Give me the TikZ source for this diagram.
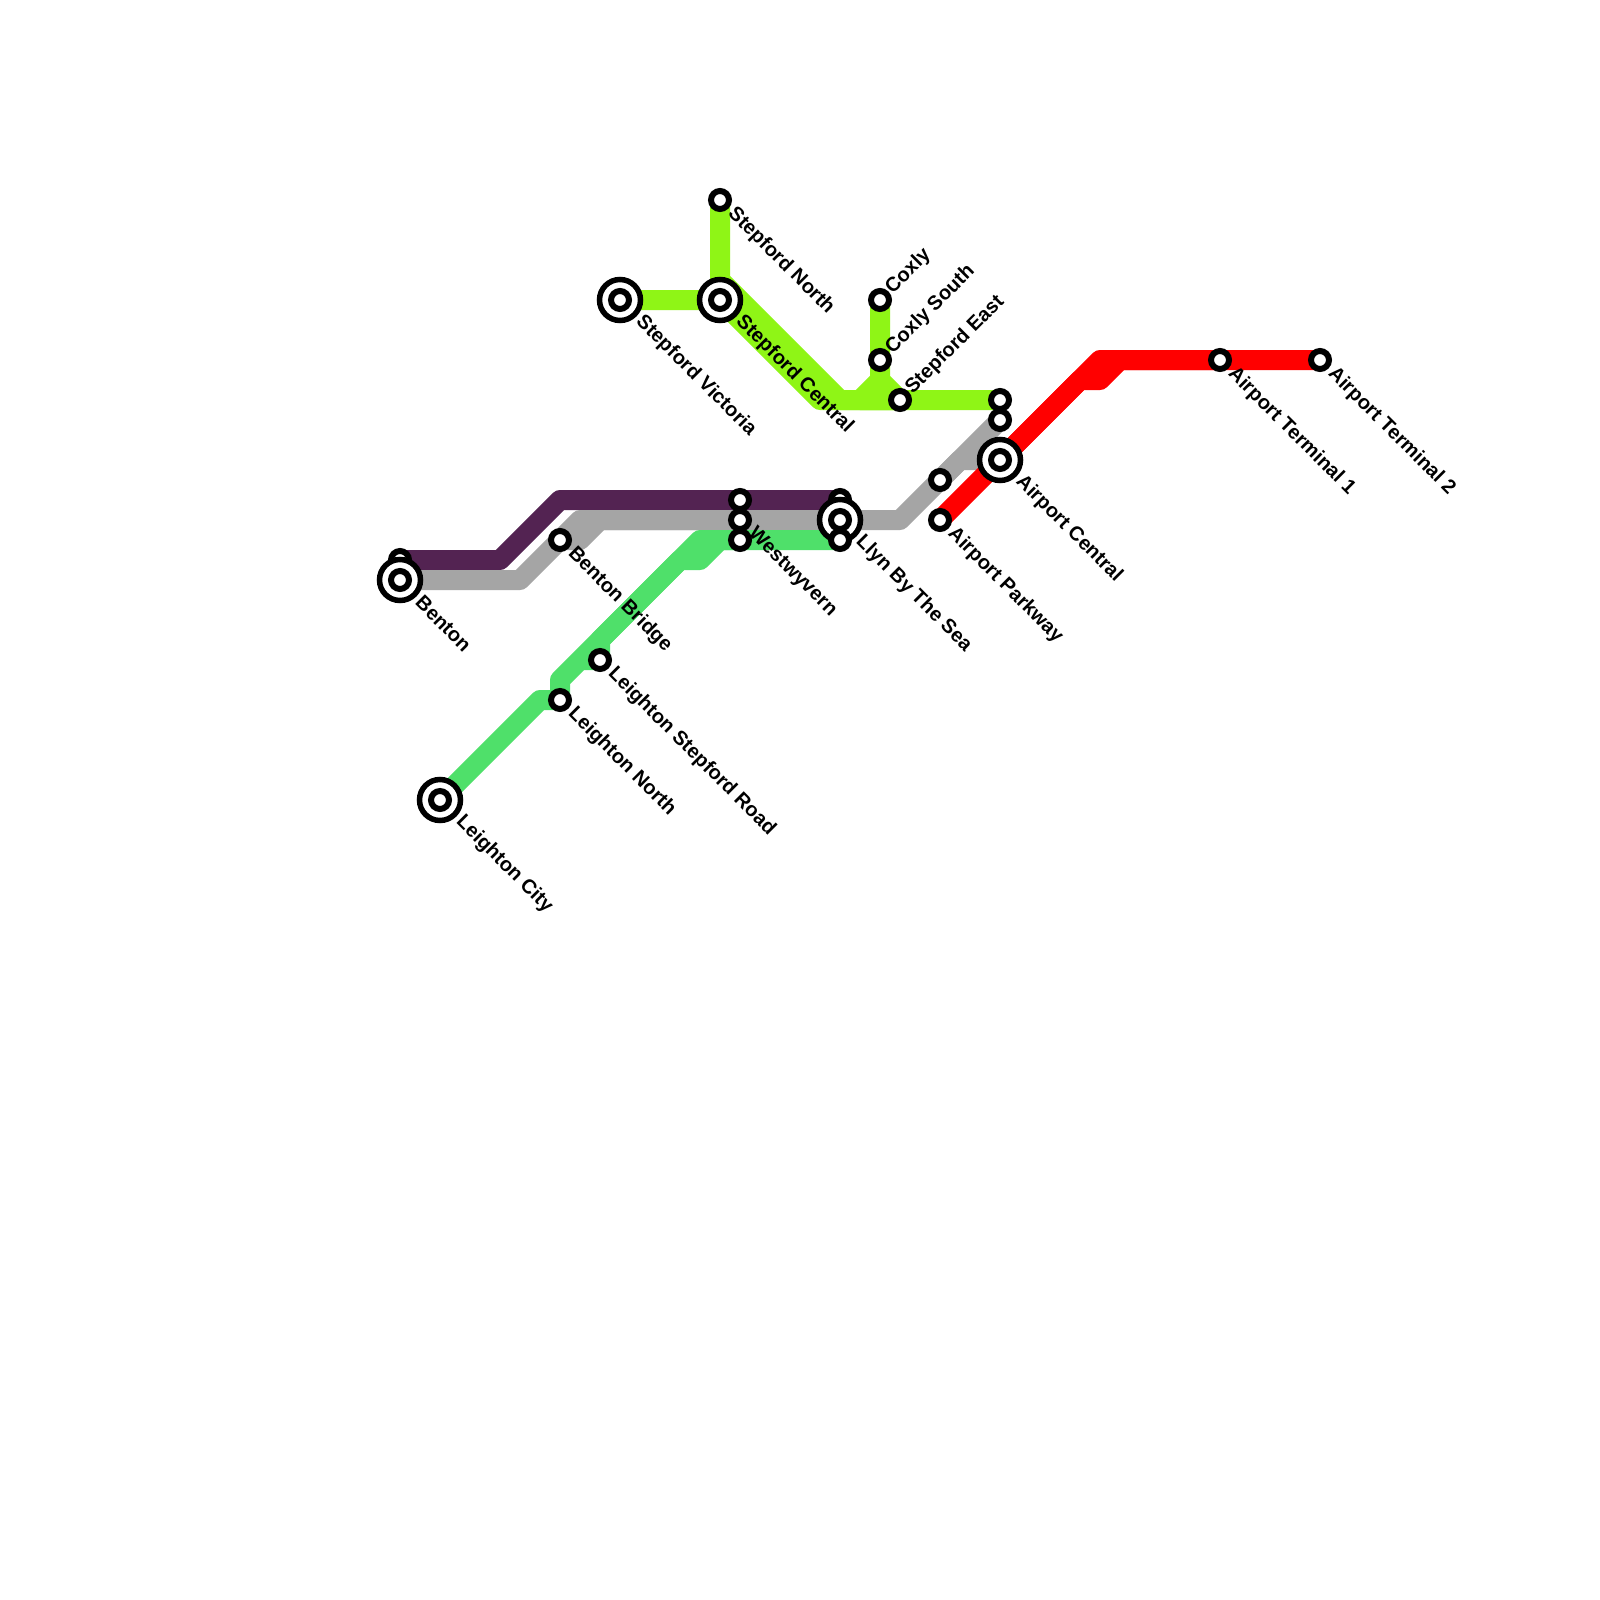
\documentclass[tikz,border=0pt]{standalone}
\usepackage{fontspec}
\setmainfont{Liberation Sans}
\usetikzlibrary{backgrounds}
\definecolor{cpurple}{HTML}{532352}
\definecolor{cgray}{HTML}{A5A5A5}
\definecolor{cgreen}{HTML}{4FE06A}
\definecolor{clime}{HTML}{8FF516}
\definecolor{cred}{HTML}{FF0000}
\tikzset{
  x=1pt,y=-1pt,
  stn/.style={circle,draw=black,fill=white,line width=6pt,inner sep=0pt,minimum size=18pt},
  stnbig/.style={circle,draw=black,fill=white,line width=5.5pt,inner sep=0pt,minimum size=41pt},
  rail/.style={line width=20pt,line join=round,line cap=round},
  ldown/.style={rotate=-45,anchor=west,inner sep=0pt,font=\fontsize{20}{24}\selectfont\bfseries,text=black},
  lup/.style={rotate=45,anchor=west,inner sep=0pt,font=\fontsize{20}{24}\selectfont\bfseries,text=black},
}
\begin{document}
\begin{tikzpicture}
\useasboundingbox (0,0) rectangle (1600,1600);
% stations
\node[stn] (bentonT) at (400,560) {};
\node[stnbig] (bentonR) at (400,580) {};
\node[stn] (benton) at (400,580) {};
\node[stn] (bridge) at (560,540) {};
\node[stn] (w1) at (740,500) {};
\node[stn] (w2) at (740,520) {};
\node[stn] (w3) at (740,540) {};
\node[stn] (ly1) at (840,500) {};
\node[stnbig] (lyR) at (840,520) {};
\node[stn] (ly2) at (840,520) {};
\node[stn] (ly3) at (840,540) {};
\node[stn] (lsr) at (600,660) {};
\node[stn] (ln) at (560,700) {};
\node[stnbig] (cityR) at (440,800) {};
\node[stn] (city) at (440,800) {};
\node[stnbig] (victR) at (620,300) {};
\node[stn] (vict) at (620,300) {};
\node[stnbig] (cenR) at (720,300) {};
\node[stn] (cen) at (720,300) {};
\node[stn] (north) at (720,200) {};
\node[stn] (coxly) at (880,300) {};
\node[stn] (cs) at (880,360) {};
\node[stn] (east) at (900,400) {};
\node[stn] (e1) at (1000,400) {};
\node[stn] (e2) at (1000,420) {};
\node[stn] (sg) at (940,480) {};
\node[stnbig] (aircR) at (1000,460) {};
\node[stn] (airc) at (1000,460) {};
\node[stn] (pk) at (940,520) {};
\node[stn] (t1) at (1220,360) {};
\node[stn] (t2) at (1320,360) {};
% lines
\begin{scope}[on background layer]
\fill[white] (0,0) rectangle (1600,1600);
\draw[rail,cpurple] (bentonT.center) -- (500,560) -- (560,500) -- (w1.center) -- (ly1.center);
\draw[rail,cgray] (benton.center) -- (520,580) -- (bridge.center) -- (580,520) -- (w2.center) -- (ly2.center) -- (900,520) -- (sg.center) -- (e2.center);
\draw[rail,cgray] (bridge.center) -- (580,540) -- (600,520) -- (w2.center);
\draw[rail,cgray] (sg.center) -- (960,460) -- (airc.center);
\draw[rail,cgreen] (city.center) -- (540,700) -- (ln.center) -- (560,680) -- (600,640) -- (lsr.center) -- (580,660) -- (680,560) -- (700,560) -- (720,540) -- (w3.center) -- (ly3.center);
\draw[rail,cgreen] (600,640) -- (700,540) -- (w3.center);
\draw[rail,clime] (vict.center) -- (cen.center) -- (820,400) -- (east.center) -- (e1.center);
\draw[rail,clime] (north.center) -- (720,280) -- (840,400) -- (east.center);
\draw[rail,clime] (coxly.center) -- (cs.center) -- (880,380) -- (east.center);
\draw[rail,clime] (880,380) -- (860,400) -- (east.center);
\draw[rail,cred] (pk.center) -- (airc.center) -- (1100,360) -- (t1.center) -- (t2.center);
\draw[rail,cred] (airc.center) -- (1080,380) -- (1100,380) -- (1120,360) -- (t1.center);
\end{scope}
% labels
\node[ldown] (lbenton) at (419,599) {Benton};
\node[ldown] (lbridge) at (571,551) {Benton Bridge};
\node[ldown] (lwest) at (751,531) {Westwyvern};
\node[ldown] (lllyn) at (859,539) {Llyn By The Sea};
\node[ldown] (llsr) at (611,671) {Leighton Stepford Road};
\node[ldown] (lln) at (571,711) {Leighton North};
\node[ldown] (lcity) at (459,819) {Leighton City};
\node[ldown] (lvict) at (639,319) {Stepford Victoria};
\node[ldown] (lcen) at (739,319) {Stepford Central};
\node[ldown] (lnorth) at (731,211) {Stepford North};
\node[lup] (lcoxly) at (889,291) {Coxly};
\node[lup] (lcs) at (889,351) {Coxly South};
\node[lup] (least) at (909,391) {Stepford East};
\node[ldown] (lairc) at (1019,479) {Airport Central};
\node[ldown] (lpk) at (951,531) {Airport Parkway};
\node[ldown] (lt1) at (1231,371) {Airport Terminal 1};
\node[ldown] (lt2) at (1331,371) {Airport Terminal 2};
\end{tikzpicture}
\end{document}
